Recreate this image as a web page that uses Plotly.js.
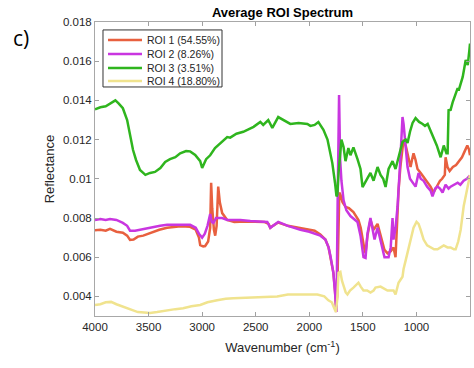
<!DOCTYPE html>
<html>
<head>
<meta charset="utf-8">
<script src="https://cdn.plot.ly/plotly-3.0.1.min.js"></script>
<style>html,body{margin:0;padding:0;background:#fff;}#chart{width:474px;height:368px;}</style>
</head>
<body>
<div id="chart"></div>
<script>
// ---- Data ----
const seriesNames = ["ROI 1 (54.55%)", "ROI 2 (8.26%)", "ROI 3 (3.51%)", "ROI 4 (18.80%)"];

const roi1Wn = [4000,3950,3900,3860,3800,3740,3700,3673,3640,3600,3550,3480,3400,3327,3270,3200,3112,3060,3030,3018,2990,2972,2944,2925,2916,2906,2890,2878,2865,2850,2835,2813,2766,2700,2600,2500,2420,2380,2364,2340,2290,2200,2100,2000,1950,1897,1850,1820,1803,1775,1760,1750,1740,1730,1720,1710,1690,1662,1630,1588,1541,1520,1503,1485,1475,1457,1429,1400,1363,1335,1310,1298,1270,1240,1214,1205,1195,1180,1167,1150,1130,1120,1100,1083,1055,1040,1027,1010,990,960,933,900,868,840,810,780,760,745,735,728,710,690,660,630,600,575,550,525,510,500];
const roi1Val = [0.00738,0.0074,0.00735,0.00745,0.0073,0.00725,0.0071,0.00688,0.0069,0.00705,0.0071,0.00725,0.0074,0.0075,0.00755,0.00758,0.00755,0.0074,0.0070,0.00662,0.00655,0.00657,0.0068,0.0075,0.0098,0.0085,0.0074,0.0071,0.0076,0.0096,0.0088,0.00825,0.0079,0.0078,0.00782,0.0078,0.0078,0.0077,0.0075,0.0076,0.00777,0.0076,0.0075,0.0074,0.00735,0.00716,0.0069,0.0065,0.00607,0.0052,0.0043,0.00345,0.0040,0.0075,0.0093,0.0092,0.0088,0.00857,0.0085,0.0083,0.0079,0.0075,0.0069,0.0064,0.0062,0.0071,0.0079,0.0074,0.0077,0.0071,0.0066,0.00637,0.0062,0.0063,0.0065,0.0062,0.0060,0.0078,0.0094,0.0106,0.0117,0.0120,0.0117,0.0113,0.0106,0.0110,0.0113,0.0110,0.0105,0.0103,0.0101,0.0099,0.0096,0.0093,0.0096,0.0099,0.0100,0.0101,0.0102,0.0111,0.0106,0.0104,0.0106,0.0107,0.0109,0.0111,0.0114,0.0117,0.0115,0.0112];

const roi2Wn = [4000,3950,3900,3860,3800,3740,3700,3673,3626,3580,3550,3480,3392,3327,3270,3200,3112,3060,3030,3000,2975,2950,2925,2910,2895,2870,2850,2813,2766,2700,2644,2550,2450,2392,2364,2340,2290,2200,2083,2000,1950,1897,1850,1820,1803,1775,1760,1746,1735,1722,1712,1700,1680,1654,1616,1570,1550,1522,1494,1475,1457,1429,1410,1391,1363,1335,1310,1298,1260,1240,1223,1214,1195,1176,1150,1130,1120,1102,1083,1060,1036,1008,980,960,933,900,868,850,825,803,780,756,728,700,681,650,615,590,559,530,512,500];
const roi2Val = [0.0079,0.00795,0.0079,0.00795,0.0079,0.00775,0.0076,0.00735,0.00735,0.0074,0.00745,0.0075,0.0076,0.00765,0.00765,0.00762,0.00765,0.0075,0.0072,0.0070,0.0072,0.0076,0.0082,0.0078,0.00775,0.0080,0.0080,0.0080,0.0079,0.0079,0.0079,0.00785,0.0078,0.0078,0.0075,0.0076,0.0078,0.0076,0.0074,0.0073,0.0072,0.0071,0.0069,0.0065,0.00607,0.0052,0.0042,0.0032,0.0090,0.01428,0.0110,0.0099,0.0089,0.0084,0.0081,0.0079,0.0078,0.0071,0.0060,0.00596,0.0072,0.0080,0.0075,0.0069,0.0075,0.0069,0.0064,0.0060,0.0060,0.0065,0.0080,0.0069,0.0075,0.0086,0.0110,0.01315,0.0128,0.0116,0.0106,0.0100,0.0098,0.0096,0.0103,0.0100,0.0099,0.0096,0.0094,0.0091,0.0095,0.0096,0.0095,0.0093,0.0097,0.0095,0.0096,0.0097,0.0098,0.0097,0.0099,0.0100,0.0101,0.0100];

const roi3Wn = [4000,3950,3900,3860,3830,3810,3780,3740,3700,3663,3645,3617,3580,3550,3530,3486,3440,3390,3345,3300,3250,3205,3150,3112,3065,3018,3000,2963,2925,2880,2830,2766,2738,2680,2616,2580,2520,2457,2430,2383,2360,2345,2290,2240,2177,2100,2018,1990,1950,1915,1890,1868,1830,1785,1760,1746,1738,1727,1700,1680,1662,1635,1616,1588,1550,1522,1503,1475,1450,1429,1400,1363,1335,1310,1288,1260,1223,1195,1167,1130,1100,1083,1060,1036,1008,975,942,920,895,870,840,810,774,760,745,720,709,700,681,662,640,615,606,587,568,540,521,505,500];
const roi3Val = [0.01355,0.01365,0.0137,0.01385,0.01393,0.0140,0.01385,0.0136,0.0130,0.0120,0.01147,0.01096,0.01045,0.0103,0.0102,0.0103,0.01035,0.01055,0.01086,0.0110,0.0111,0.0113,0.01142,0.0114,0.01122,0.0109,0.01055,0.0110,0.0112,0.01157,0.0118,0.01213,0.0121,0.0123,0.0124,0.0125,0.01265,0.0129,0.01275,0.0130,0.0127,0.0126,0.01315,0.0130,0.0128,0.01285,0.0128,0.0127,0.01275,0.0129,0.0127,0.0125,0.0120,0.0108,0.0098,0.0091,0.0092,0.0103,0.0120,0.01162,0.0109,0.01157,0.0112,0.0116,0.0110,0.0105,0.00958,0.0099,0.0101,0.0103,0.0099,0.0106,0.0102,0.0100,0.00958,0.0105,0.0109,0.0105,0.0111,0.01188,0.0120,0.01183,0.0124,0.01285,0.0131,0.0129,0.0128,0.0127,0.0128,0.0125,0.01213,0.0117,0.0111,0.0114,0.0117,0.0113,0.0113,0.0135,0.01352,0.0139,0.0143,0.01463,0.0145,0.0149,0.0152,0.01606,0.0158,0.0166,0.0169];

const roi4Wn = [4000,3950,3900,3850,3800,3750,3700,3650,3600,3540,3486,3420,3327,3250,3177,3100,3018,2950,2860,2780,2710,2600,2500,2392,2300,2200,2083,2000,1925,1860,1822,1790,1775,1760,1752,1740,1727,1710,1695,1680,1660,1644,1620,1588,1560,1541,1520,1494,1460,1429,1400,1382,1335,1300,1270,1240,1214,1195,1180,1167,1130,1120,1102,1074,1055,1027,999,980,961,933,900,868,835,803,775,745,710,681,650,634,610,587,559,535,512,500];
const roi4Val = [0.00356,0.0036,0.0037,0.00372,0.0036,0.0035,0.0034,0.0033,0.0032,0.00318,0.00315,0.0032,0.0033,0.00335,0.0034,0.0035,0.00356,0.0037,0.0038,0.00388,0.0039,0.00393,0.00397,0.00397,0.0040,0.0041,0.0041,0.0041,0.0041,0.0040,0.0038,0.0037,0.00345,0.0033,0.0032,0.0038,0.0052,0.00525,0.0048,0.0045,0.0042,0.0041,0.0043,0.00445,0.0046,0.0047,0.0045,0.0043,0.0043,0.0042,0.0043,0.00445,0.0045,0.0044,0.0043,0.0043,0.0043,0.0041,0.0044,0.0047,0.0050,0.0054,0.0058,0.0064,0.0068,0.0075,0.0078,0.0077,0.0074,0.0069,0.0066,0.0065,0.0064,0.0064,0.0065,0.0066,0.0065,0.0065,0.0064,0.0064,0.0068,0.0074,0.0086,0.0093,0.0099,0.0102];

const xTickVals = [4000,3500,3000,2500,2000,1500,1000];
const xTickText = ["4000","3500","3000","2500","2000","1500","1000"];
const yTickVals = [0.004,0.006,0.008,0.010,0.012,0.014,0.016,0.018];
const yTickText = ["0.004","0.006","0.008","0.01","0.012","0.014","0.016","0.018"];

// ---- Styles ----
const colors = ["#e8603f", "#c936e0", "#2fb51e", "#f0e38e"];
const xs = [roi1Wn, roi2Wn, roi3Wn, roi4Wn];
const ys = [roi1Val, roi2Val, roi3Val, roi4Val];
const traces = seriesNames.map((n, i) => ({
  x: xs[i], y: ys[i], name: n, type: "scatter", mode: "lines",
  line: {color: colors[i], width: 2.5}
}));

// Compact legend box (MATLAB-style spacing), in plot-area fractions
const legBox = {x0: 0.0213, x1: 0.3387, y0: 0.779, y1: 0.973};
const legRows = [0.9388, 0.8912, 0.8435, 0.7993];
const legLineX = [0.0347, 0.1253];
const legTextX = 0.1333;

const shapes = [{type: "rect", xref: "paper", yref: "paper", x0: legBox.x0, x1: legBox.x1,
                 y0: legBox.y0, y1: legBox.y1, fillcolor: "#ffffff", line: {color: "#333333", width: 1}, layer: "above"}];
const annotations = [{text: "c)", xref: "paper", yref: "paper", x: -0.197, y: 0.946,
                 xanchor: "center", yanchor: "middle", showarrow: false,
                 font: {family: "Open Sans, sans-serif", size: 21, color: "#000"}}];
seriesNames.forEach((n, i) => {
  shapes.push({type: "line", xref: "paper", yref: "paper", x0: legLineX[0], x1: legLineX[1],
               y0: legRows[i], y1: legRows[i], line: {color: colors[i], width: 2.5}, layer: "above"});
  annotations.push({text: n, xref: "paper", yref: "paper", x: legTextX, y: legRows[i],
               xanchor: "left", yanchor: "middle", showarrow: false,
               font: {size: 10.5, color: "#262626"}});
});

const font = "Liberation Sans, Arial, sans-serif";
const layout = {
  width: 474, height: 368,
  margin: {l: 95, r: 4, t: 22, b: 52},
  paper_bgcolor: "#ffffff", plot_bgcolor: "#ffffff",
  font: {family: font, size: 11, color: "#262626"},
  showlegend: false,
  title: {text: "<b>Average ROI Spectrum</b>", font: {family: font, size: 13, color: "#000"},
          x: 0.5, xref: "paper", xanchor: "center", y: 0.966, yref: "container", yanchor: "middle"},
  xaxis: {range: [4000, 500], autorange: false, tickvals: xTickVals, ticktext: xTickText,
          ticks: "inside", ticklen: 4, tickcolor: "#a0a0a0", showline: true, mirror: "ticks",
          linecolor: "#a8a8a8", linewidth: 1, showgrid: false, zeroline: false,
          tickfont: {size: 11.5, color: "#262626"},
          title: {text: "Wavenumber (cm<sup>-1</sup>)", font: {size: 13, color: "#262626"}, standoff: 11}},
  yaxis: {range: [0.003, 0.018], autorange: false, tickvals: yTickVals, ticktext: yTickText,
          ticks: "inside", ticklen: 4, tickcolor: "#a0a0a0", showline: true, mirror: "ticks",
          linecolor: "#a8a8a8", linewidth: 1, showgrid: false, zeroline: false,
          tickfont: {size: 11.5, color: "#262626"},
          title: {text: "Reflectance", font: {size: 13, color: "#262626"}, standoff: 5}},
  shapes: shapes,
  annotations: annotations
};

Plotly.newPlot("chart", traces, layout, {staticPlot: true, displayModeBar: false});
</script>
</body>
</html>
